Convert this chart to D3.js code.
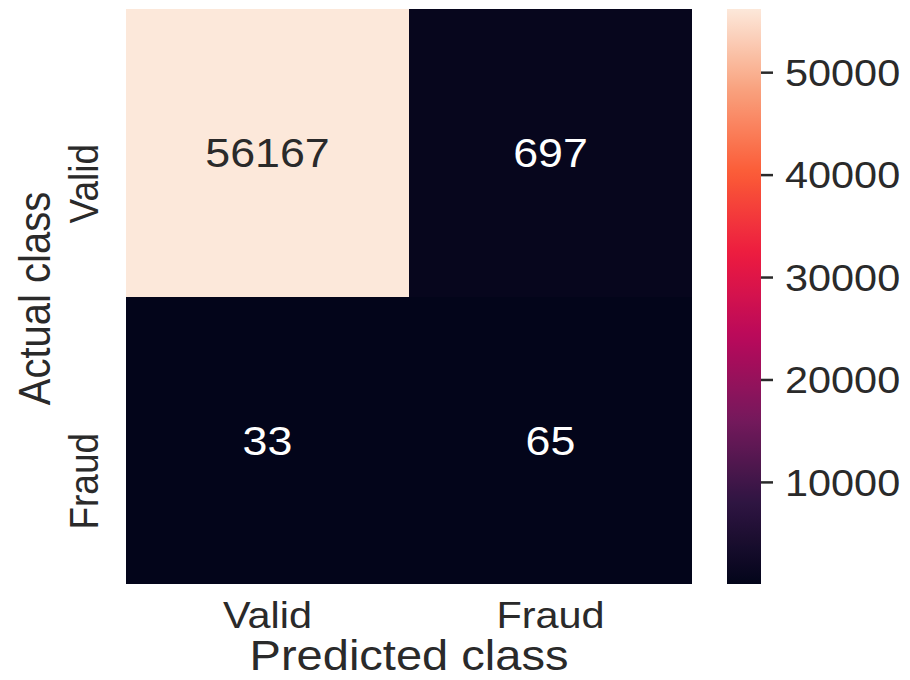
<!DOCTYPE html>
<html>
<head>
<meta charset="utf-8">
<script src="https://cdn.jsdelivr.net/npm/d3@7"></script>
<style>
  html, body { margin: 0; padding: 0; background: #ffffff; }
  svg { display: block; }
  text { font-family: "Liberation Sans", Arial, Helvetica, sans-serif; }
</style>
</head>
<body>
<svg id="chart" width="910" height="680"></svg>
<script>
// Confusion matrix of the fraud classifier
const predictedClasses = ["Valid", "Fraud"];
const actualClasses = ["Valid", "Fraud"];
const counts = [
  [56167, 697],
  [33, 65]
];
const colorbarTicks = [10000, 20000, 30000, 40000, 50000];

// "rocket"-style colour ramp, dark to light
const rampColors = ["#03051a", "#2f1542", "#75195c", "#b9095b", "#ec1a40", "#fb5b36", "#f9a07c", "#fce8da"];

const W = 910, H = 680;
const SX = 1.12;                       // horizontal widening of the glyphs
const plot = { left: 126, right: 692, top: 9, bottom: 584 };
const cbar = { left: 727, right: 761 };
const labelSize = 40, xLabelSize = 42, tickSize = 37, annotSize = 40;
const textColor = "#2a2a2a";

const svg = d3.select("#chart");

const cells = [];
actualClasses.forEach((a, i) => predictedClasses.forEach((p, j) => {
  cells.push({ actual: a, predicted: p, value: counts[i][j] });
}));
const allValues = cells.map(d => d.value);
const vmin = d3.min(allValues), vmax = d3.max(allValues);

const x = d3.scaleBand().domain(predictedClasses).range([plot.left, plot.right]);
const y = d3.scaleBand().domain(actualClasses).range([plot.top, plot.bottom]);

const ramp = d3.piecewise(d3.interpolateRgb, rampColors);
const color = d3.scaleSequential(ramp).domain([vmin, vmax]);

// text helper: place, then widen horizontally
function place(sel, px, py, rot) {
  sel.attr("x", 0).attr("y", 0)
     .attr("transform", `translate(${px},${py}) scale(${SX},1)` + (rot ? ` rotate(${rot})` : ""));
  return sel;
}

// heatmap cells
svg.append("g").selectAll("rect").data(cells).join("rect")
  .attr("x", d => x(d.predicted))
  .attr("y", d => y(d.actual))
  .attr("width", x.bandwidth())
  .attr("height", y.bandwidth())
  .attr("fill", d => color(d.value))
  .attr("shape-rendering", "crispEdges");

// cell annotations
const annot = svg.append("g");
cells.forEach(d => {
  const lum = d3.hsl(color(d.value)).l;
  annot.append("text")
    .attr("text-anchor", "middle")
    .attr("font-size", annotSize)
    .attr("fill", lum > 0.5 ? textColor : "#ffffff")
    .text(d.value)
    .call(place, x(d.predicted) + x.bandwidth() / 2, y(d.actual) + y.bandwidth() / 2 + annotSize * 0.358);
});

// x tick labels
const xt = svg.append("g");
predictedClasses.forEach(p => {
  xt.append("text")
    .attr("text-anchor", "middle")
    .attr("font-size", tickSize)
    .attr("fill", textColor)
    .text(p)
    .call(place, x(p) + x.bandwidth() / 2, 628);
});

// y tick labels (rotated)
const yt = svg.append("g");
const yLabelShift = { Valid: 31, Fraud: 41 };
actualClasses.forEach(a => {
  yt.append("text")
    .attr("text-anchor", "middle")
    .attr("font-size", tickSize)
    .attr("fill", textColor)
    .text(a)
    .call(place, 98, y(a) + y.bandwidth() / 2 + yLabelShift[a], -90);
});

// axis titles
svg.append("text")
  .attr("text-anchor", "middle")
  .attr("font-size", xLabelSize)
  .attr("fill", textColor)
  .text("Predicted class")
  .call(place, (plot.left + plot.right) / 2, 670);

svg.append("text")
  .attr("text-anchor", "middle")
  .attr("font-size", labelSize)
  .attr("fill", textColor)
  .text("Actual class")
  .call(place, 50, (plot.top + plot.bottom) / 2 + 2, -90);

// colour bar
const cy = d3.scaleLinear().domain([vmin, vmax]).range([plot.bottom, plot.top]);
const grad = svg.append("defs").append("linearGradient")
  .attr("id", "cbarGrad").attr("x1", 0).attr("y1", 1).attr("x2", 0).attr("y2", 0);
d3.range(0, 1.0001, 0.02).forEach(t => {
  grad.append("stop").attr("offset", t).attr("stop-color", ramp(t));
});
svg.append("rect")
  .attr("x", cbar.left).attr("y", plot.top)
  .attr("width", cbar.right - cbar.left)
  .attr("height", plot.bottom - plot.top)
  .attr("fill", "url(#cbarGrad)");

const cAxis = d3.axisRight(cy).tickValues(colorbarTicks).tickSize(12).tickPadding(12).tickFormat(d3.format("d"));
const cg = svg.append("g").attr("transform", `translate(${cbar.right},0)`).call(cAxis);
cg.select(".domain").remove();
cg.selectAll(".tick line").attr("stroke", textColor).attr("stroke-width", 2.5);
cg.selectAll(".tick text")
  .attr("font-size", tickSize)
  .attr("fill", textColor)
  .attr("font-family", null)
  .attr("dy", null)
  .each(function() {
    const t = d3.select(this);
    t.attr("x", 0).attr("y", 0)
     .attr("transform", `translate(24,${tickSize * 0.358}) scale(${SX},1)`);
  });
</script>
</body>
</html>
